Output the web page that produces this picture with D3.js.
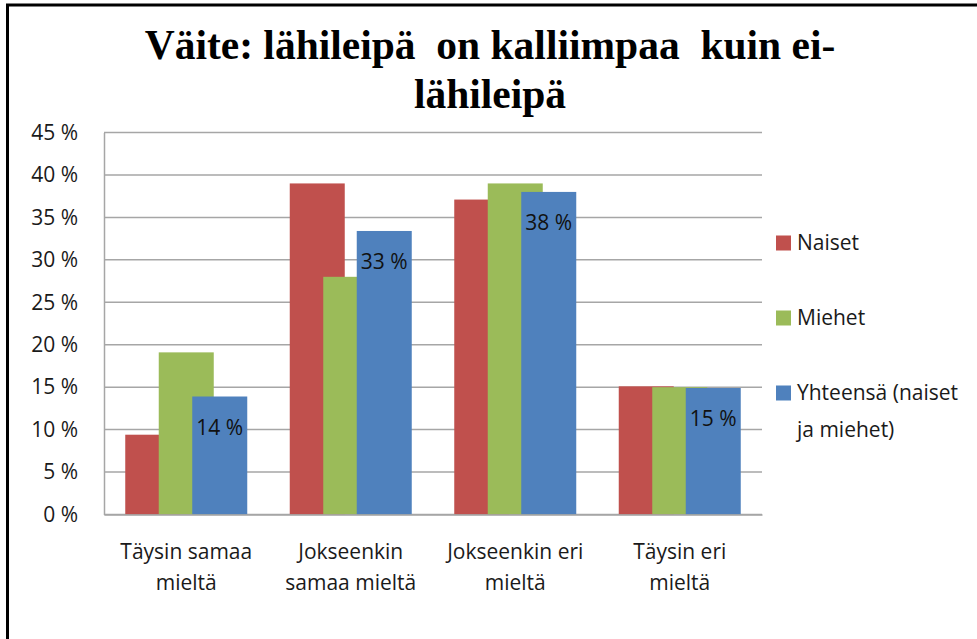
<!DOCTYPE html>
<html>
<head>
<meta charset="utf-8">
<script src="https://cdn.jsdelivr.net/npm/d3@7"></script>
<style>
  body { margin: 0; background: #fff; }
  svg { display: block; }
</style>
</head>
<body>
<div id="chart"></div>
<script>
// data (percent)
let categories = [["Täysin samaa", "mieltä"], ["Jokseenkin", "samaa mieltä"], ["Jokseenkin eri", "mieltä"], ["Täysin eri", "mieltä"]];
let seriesNames = ["Naiset", "Miehet", "Yhteensä (naiset ja miehet)"];
let naiset = [9.4, 39.0, 37.1, 15.1];
let miehet = [19.1, 28.0, 39.0, 15.0];
let yhteensa = [13.9, 33.4, 38.0, 14.9];
let yhteensaLabels = ["14 %", "33 %", "38 %", "15 %"];
let yTicks = [0, 5, 10, 15, 20, 25, 30, 35, 40, 45];

let colors = ["#C0504D", "#9BBB59", "#4F81BD"];
let values = [naiset, miehet, yhteensa];

let dim = { width: 977, height: 639 };
let plot = { left: 104, right: 762, top: 132.5, bottom: 514.5 };

let svg = d3.select('#chart').append('svg')
    .attr('width', dim.width)
    .attr('height', dim.height);

let font = "'Open Sans', Lato, sans-serif";

// frame
svg.append('path')
    .attr('d', `M7.5,${dim.height + 5} V5 H${dim.width + 5}`)
    .attr('fill', 'none')
    .attr('stroke', '#000')
    .attr('stroke-width', 3);

// title
let title = svg.append('text')
    .attr('text-anchor', 'middle')
    .attr('font-family', "'Liberation Serif', 'Times New Roman', serif")
    .attr('font-weight', 'bold')
    .attr('font-size', 41.5)
    .style('white-space', 'pre')
    .attr('fill', '#000');
title.append('tspan').attr('x', 490).attr('y', 59).text('Väite: lähileipä  on kalliimpaa  kuin ei-');
title.append('tspan').attr('x', 490).attr('y', 108).text('lähileipä');

let scaleX = d3.scaleBand()
    .domain(d3.range(categories.length))
    .range([plot.left, plot.right]);

let scaleY = d3.scaleLinear()
    .domain([0, 45])
    .range([plot.bottom, plot.top]);

// gridlines
svg.append('g')
    .selectAll('line')
    .data(yTicks)
    .join('line')
    .attr('x1', plot.left)
    .attr('x2', plot.right)
    .attr('y1', d => scaleY(d))
    .attr('y2', d => scaleY(d))
    .attr('stroke', '#a6a6a6')
    .attr('stroke-width', 1.5);

// y axis
let axisY = svg.append('g')
    .attr('transform', `translate(${plot.left},0)`)
    .call(d3.axisLeft(scaleY).tickValues(yTicks).tickSize(0).tickPadding(26).tickFormat(d => d + ' %'));
axisY.select('.domain').attr('stroke', '#a6a6a6').attr('stroke-width', 1.5);
axisY.selectAll('text')
    .attr('font-family', font)
    .attr('font-size', 21)
    .attr('fill', '#1a1a1a');

// bars: wide bars that overlap each other, as in the original
let barW = 55, step = 33.5;
let groupW = barW + step * 2;
let barX = (i, s) => scaleX(i) + (scaleX.bandwidth() - groupW) / 2 + s * step;

values.forEach((vals, s) => {
    svg.append('g')
        .selectAll('rect')
        .data(vals)
        .join('rect')
        .attr('x', (d, i) => barX(i, s))
        .attr('y', d => scaleY(d))
        .attr('width', barW)
        .attr('height', d => scaleY(0) - scaleY(d))
        .attr('fill', colors[s]);
});

// data labels on the total series
svg.append('g')
    .selectAll('text')
    .data(yhteensa)
    .join('text')
    .attr('x', (d, i) => barX(i, 2) + barW / 2)
    .attr('y', d => scaleY(d) + 38)
    .attr('text-anchor', 'middle')
    .attr('font-family', font)
    .attr('font-size', 21)
    .attr('fill', '#111')
    .text((d, i) => yhteensaLabels[i]);

// x axis
let axisX = svg.append('g')
    .attr('transform', `translate(0,${plot.bottom})`)
    .call(d3.axisBottom(scaleX).tickSize(0).tickFormat(''));
axisX.select('.domain').attr('stroke', '#a6a6a6').attr('stroke-width', 1.5);

let xLabels = svg.append('g')
    .selectAll('text')
    .data(categories)
    .join('text')
    .attr('text-anchor', 'middle')
    .attr('font-family', font)
    .attr('font-size', 21)
    .attr('fill', '#1a1a1a');
xLabels.each(function(d, i) {
    d.forEach((line, k) => {
        d3.select(this).append('tspan')
            .attr('x', scaleX(i) + scaleX.bandwidth() / 2)
            .attr('y', 559 + k * 31)
            .text(line);
    });
});

// legend
let legendRows = [["Naiset"], ["Miehet"], ["Yhteensä (naiset", "ja miehet)"]];
let legendY = [243, 318, 393];
let legend = svg.append('g')
    .selectAll('g')
    .data(legendRows)
    .join('g')
    .attr('transform', (d, i) => `translate(776,${legendY[i]})`);
legend.append('rect')
    .attr('x', 0)
    .attr('y', -7.5)
    .attr('width', 15)
    .attr('height', 15)
    .attr('fill', (d, i) => colors[i]);
legend.append('text')
    .attr('font-family', font)
    .attr('font-size', 21)
    .attr('fill', '#1a1a1a')
    .each(function(d) {
        d.forEach((line, k) => {
            d3.select(this).append('tspan')
                .attr('x', 21)
                .attr('y', 7 + k * 37)
                .text(line);
        });
    });
</script>
</body>
</html>
